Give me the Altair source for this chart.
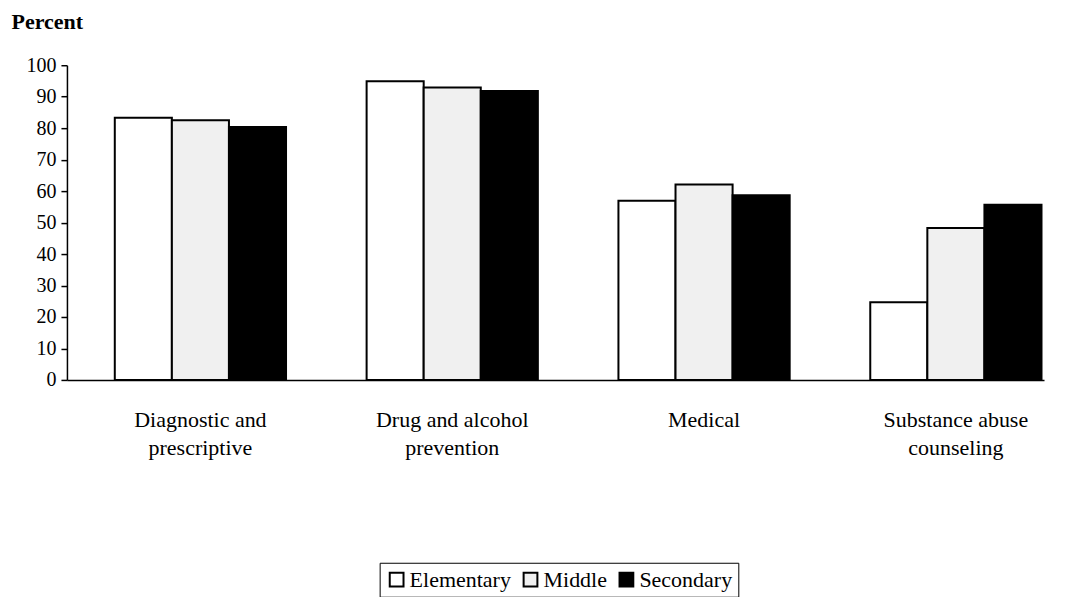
import altair as alt
import pandas as pd

categories = ["Diagnostic and\nprescriptive", "Drug and alcohol\nprevention", "Medical", "Substance abuse\ncounseling"]
levels = ["Elementary", "Middle", "Secondary"]
elementary = [83.3, 94.9, 56.9, 24.7]
middle = [82.5, 92.9, 62.1, 48.3]
secondary = [80.4, 91.8, 58.7, 55.7]
y_ticks = [0, 10, 20, 30, 40, 50, 60, 70, 80, 90, 100]
fills = ["#ffffff", "#f0f0f0", "#000000"]

rows = []
for i, c in enumerate(categories):
    for lvl, vals in zip(levels, [elementary, middle, secondary]):
        rows.append({"Category": c, "Level": lvl, "Percent": vals[i]})
df = pd.DataFrame(rows)

FONT = "Liberation Serif"

chart = alt.Chart(df).mark_bar(stroke="black", strokeWidth=2).encode(
    x=alt.X("Category:N", sort=categories,
            scale=alt.Scale(paddingInner=0.32, paddingOuter=0.1, align=0.95),
            axis=alt.Axis(title=None, labelAngle=0, ticks=False, labelPadding=30,
                          labelExpr="split(datum.label, '\\n')", labelLineHeight=28,
                          labelFontSize=22, labelFont=FONT, labelColor="black",
                          domainColor="black", domainWidth=1.5)),
    xOffset=alt.XOffset("Level:N", sort=levels, scale=alt.Scale(paddingInner=0, paddingOuter=0)),
    y=alt.Y("Percent:Q", scale=alt.Scale(domain=[0, 100], nice=False),
            axis=alt.Axis(values=y_ticks, grid=False, tickSize=6, tickColor="black", tickWidth=1.5,
                          domainColor="black", domainWidth=1.5, labelPadding=5,
                          labelFontSize=20, labelFont=FONT, labelColor="black",
                          title="Percent", titleAngle=0, titleAlign="left", titleBaseline="alphabetic",
                          titleX=-56, titleY=-37, titleFont=FONT, titleFontSize=22,
                          titleFontWeight="bold", titleColor="black")),
    fill=alt.Fill("Level:N", sort=levels, scale=alt.Scale(domain=levels, range=fills),
                  legend=alt.Legend(title=None, orient="none", direction="horizontal",
                                    legendX=313, legendY=498, symbolType="square", symbolSize=190,
                                    symbolStrokeColor="black", symbolStrokeWidth=2,
                                    labelFont=FONT, labelFontSize=22, labelColor="black",
                                    labelOffset=2, columnPadding=8, strokeColor="black",
                                    padding=6, fillColor="white")),
).properties(
    width=978, height=315,
    autosize=alt.AutoSizeParams(type="none"),
    padding={"left": 59, "top": 57, "right": 20, "bottom": 217},
).configure(background="white").configure_view(stroke=None, strokeWidth=0)

chart.save("out.html", embed_options={"renderer": "svg", "actions": False})
